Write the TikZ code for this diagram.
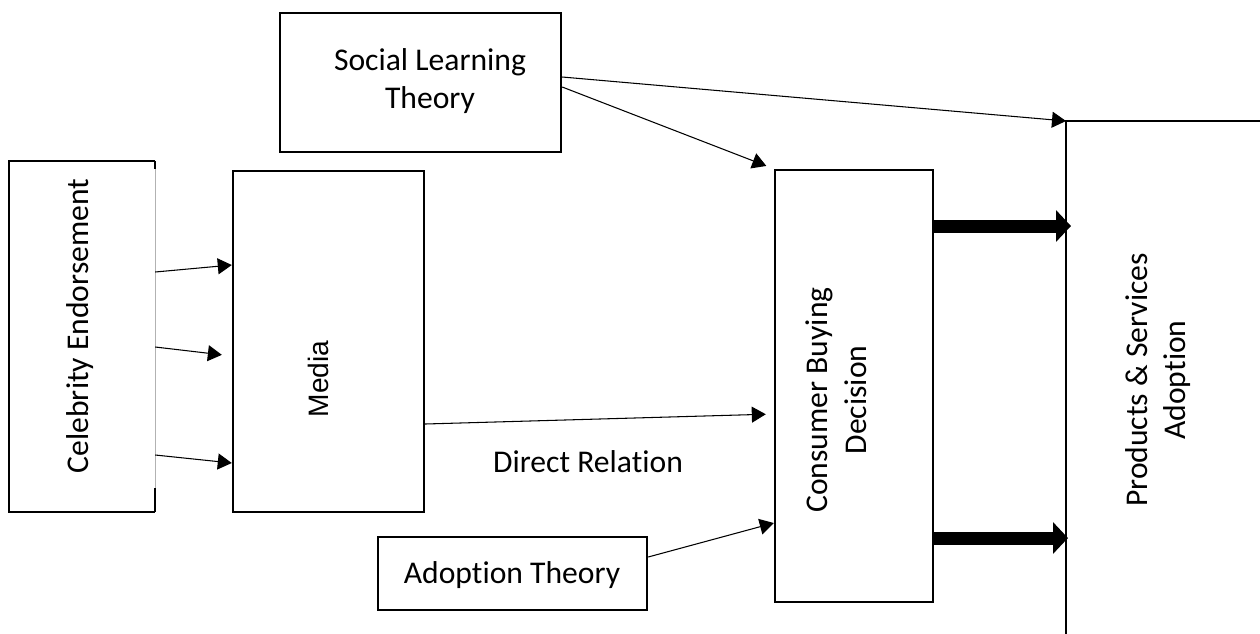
\documentclass[tikz,border=0pt]{standalone}
\usepackage{fontspec}
\setmainfont{Carlito}[Ligatures=NoCommon]
\newfontfamily\arialfont{Liberation Sans}
\usetikzlibrary{arrows.meta,positioning}

\begin{document}
\begin{tikzpicture}[x=0.02cm,y=-0.02cm,
        font=\fontsize{18}{22}\selectfont,
        frame/.style={draw,line width=1.4pt,inner sep=0pt},
        caption/.style={align=center,inner sep=0pt},
        thin arrow/.style={line width=0.6pt,-{Triangle[length=0.28cm,width=0.32cm]}},
        fat arrow/.style={line width=0.26cm,-{Triangle[length=0.3cm,width=0.62cm]}}]
    \useasboundingbox (0,0) rectangle (1260,633);
    % boxes
    \node[frame,draw=none,minimum width=2.88cm,minimum height=6.98cm] (celeb) at (82,336.5) {};
    \node[frame,minimum width=3.82cm,minimum height=6.82cm] (media) at (328.5,341.5) {};
    \node[frame,minimum width=5.62cm,minimum height=2.78cm] (social) at (420.5,82.5) {};
    \node[frame,minimum width=3.16cm,minimum height=8.64cm] (cons) at (854,386) {};
    \node[frame,minimum width=5.38cm,minimum height=1.46cm] (adopt) at (512.5,573.5) {};
    \node[inner sep=0pt,minimum width=3.88cm,minimum height=10.24cm,anchor=north west] (prod) at (1066,121) {};
    % open sides
    \draw[line width=1.4pt] (celeb.north east) -- (celeb.north west) -- (celeb.south west) -- (celeb.south east);
    \draw[gray!60,line width=0.4pt] (celeb.north east) -- (celeb.south east);
    \draw[line width=1.4pt] (celeb.north east) -- ++(0,8);
    \draw[line width=1.4pt] (celeb.south east) -- ++(0,-24);
    \draw[line width=1.4pt] (prod.south west) -- (prod.north west) -- (prod.north east);
    % texts
    \node[caption,rotate=90] (celebtext) at (80,326) {Celebrity Endorsement};
    \node[caption,rotate=90,font=\arialfont\fontsize{16}{19}\selectfont] (mediatext) at (318,379) {Media};
    \node[caption] (socialtext) at (430,81) {Social Learning\\Theory};
    \node[caption,rotate=90] (constext) at (836,400) {Consumer Buying\\Decision};
    \node[caption] (adopttext) at (512,575) {Adoption Theory};
    \node[caption,rotate=90] (prodtext) at (1158,380) {Products \& Services\\Adoption};
    \node[caption] (direct) at (588,462) {Direct Relation};
    % connectors
    \draw[thin arrow] (celeb.east |- 0,272) -- (media.west |- 0,265);
    \draw[thin arrow,shorten >=0.2cm] (celeb.east |- 0,347) -- (media.west |- 0,356);
    \draw[thin arrow] (celeb.east |- 0,455) -- (media.west |- 0,463);
    \draw[thin arrow] (social.east |- 0,77) -- (prod.north west);
    \draw[thin arrow,shorten >=0.16cm] (social.east |- 0,87) -- (cons.north west);
    \draw[thin arrow,shorten >=0.16cm] (media.east |- 0,424) -- (cons.west |- 0,414);
    \draw[thin arrow] (adopt.east |- 0,557) -- (cons.west |- 0,523);
    \draw[fat arrow] (cons.east |- 0,226) -- ([xshift=0.1cm]prod.west |- 0,226);
    \draw[fat arrow] (cons.east |- 0,538) -- ([xshift=0.04cm]prod.west |- 0,538);
\end{tikzpicture}
\end{document}
